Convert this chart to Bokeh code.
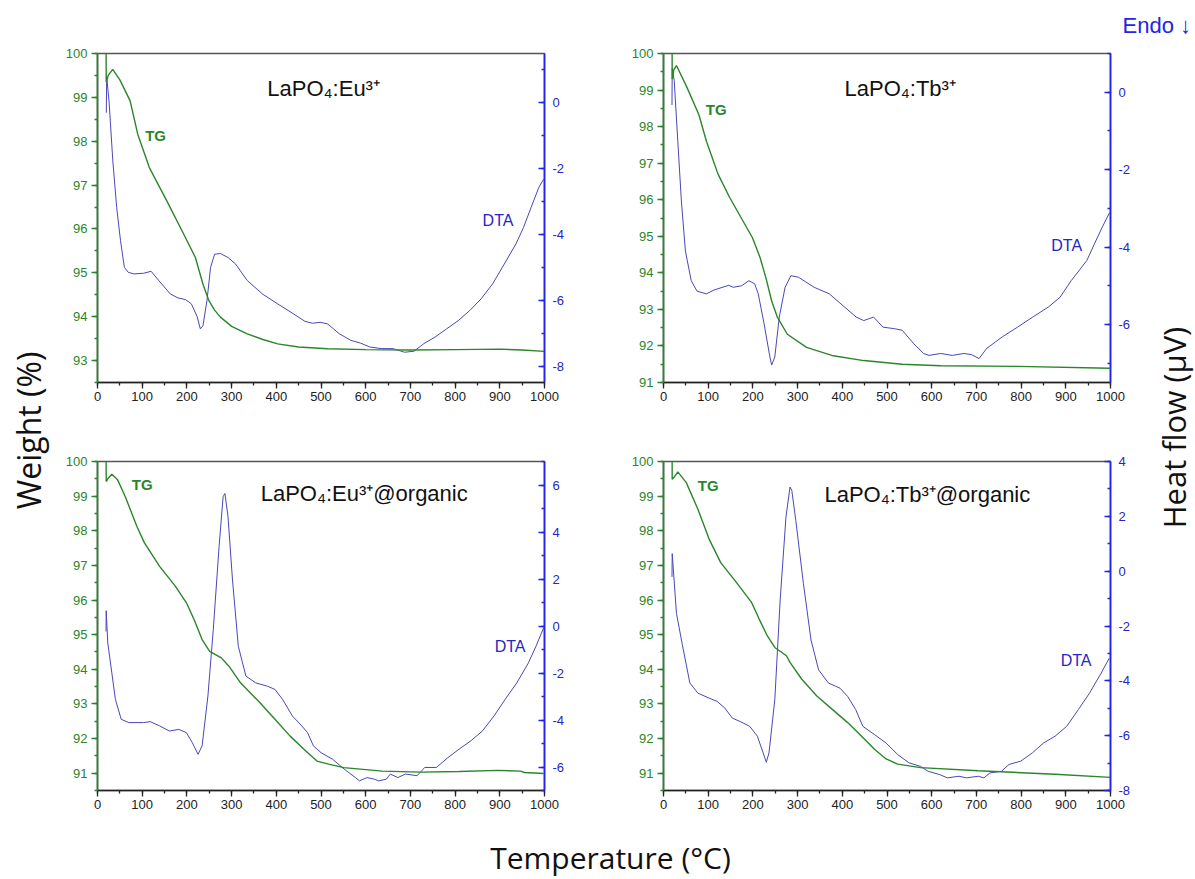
import math
from bokeh.plotting import figure
from bokeh.models import Range1d, LinearAxis, SingleIntervalTicker, Label, PrintfTickFormatter
from bokeh.layouts import row, column
from bokeh.embed import file_html
from bokeh.resources import INLINE

# ---------------- data ----------------
# Panel A: LaPO4:Eu3+
A_TG_T = [19, 19.5, 24, 34, 50, 73, 90, 116, 155, 193, 219, 236, 249, 262, 275, 300, 335, 370, 403, 450, 515, 600, 700, 800, 900, 950, 1000]
A_TG_W = [100.8, 99.35, 99.5, 99.64, 99.4, 98.92, 98.16, 97.40, 96.64, 95.88, 95.35, 94.74, 94.37, 94.15, 93.99, 93.78, 93.61, 93.48, 93.38, 93.31, 93.27, 93.25, 93.24, 93.25, 93.26, 93.24, 93.21]
A_DTA_T = [19.7, 20.5, 25.8, 34.3, 42.9, 51.5, 60.1, 68.7, 81.5, 103, 120, 137, 163, 180, 197, 210, 223, 230, 236, 245, 253, 262, 275, 292, 309, 335, 369, 403, 438, 464, 481, 498, 515, 541, 567, 588, 609, 635, 661, 687, 708, 730, 755, 781, 807, 833, 858, 884, 910, 936, 953, 970, 987, 998]
A_DTA_V = [-0.3, 0.8, 0.05, -1.77, -3.18, -4.19, -5.0, -5.15, -5.2, -5.18, -5.12, -5.4, -5.81, -5.93, -5.98, -6.11, -6.5, -6.87, -6.77, -6.0, -5.0, -4.6, -4.58, -4.7, -4.9, -5.4, -5.81, -6.11, -6.41, -6.64, -6.7, -6.67, -6.72, -7.02, -7.22, -7.3, -7.42, -7.47, -7.47, -7.58, -7.55, -7.32, -7.12, -6.87, -6.62, -6.31, -5.96, -5.5, -4.9, -4.29, -3.79, -3.18, -2.58, -2.32]

# Panel B: LaPO4:Tb3+
B_TG_T = [19, 19.5, 23, 29, 53, 79, 96, 122, 148, 174, 199, 216, 229, 242, 255, 277, 320, 380, 448, 534, 620, 792, 998]
B_TG_W = [100.8, 99.3, 99.55, 99.67, 99.06, 98.33, 97.6, 96.7, 96.06, 95.5, 94.96, 94.42, 93.87, 93.23, 92.78, 92.32, 91.96, 91.73, 91.6, 91.5, 91.46, 91.44, 91.39]
B_DTA_T = [19, 19.5, 24, 32, 40, 49, 62, 75, 96, 113, 146, 156, 175, 191, 204, 212, 225, 238, 242, 249, 259, 272, 285, 302, 337, 371, 397, 431, 448, 470, 491, 517, 534, 560, 582, 594, 620, 646, 672, 689, 706, 723, 758, 792, 826, 861, 887, 912, 947, 964, 981, 998]
B_DTA_V = [-0.33, 0.62, 0.3, -1.27, -2.81, -4.1, -4.87, -5.14, -5.21, -5.11, -4.99, -5.04, -5.0, -4.87, -4.95, -5.21, -5.98, -6.84, -7.05, -6.84, -5.81, -5.04, -4.74, -4.78, -5.04, -5.21, -5.47, -5.81, -5.9, -5.81, -6.07, -6.11, -6.15, -6.5, -6.75, -6.8, -6.75, -6.8, -6.75, -6.78, -6.88, -6.62, -6.32, -6.07, -5.81, -5.55, -5.3, -4.87, -4.35, -3.92, -3.5, -3.11]

# Panel C: LaPO4:Eu3+@organic
C_TG_T = [19, 19.5, 23, 32, 45, 62, 88, 105, 139, 174, 199, 216, 234, 251, 277, 294, 320, 363, 397, 431, 466, 491, 517, 551, 637, 723, 809, 895, 947, 955, 998]
C_TG_W = [100.8, 99.42, 99.5, 99.63, 99.47, 98.99, 98.13, 97.65, 96.97, 96.4, 95.92, 95.44, 94.86, 94.52, 94.33, 94.09, 93.61, 93.04, 92.56, 92.07, 91.64, 91.35, 91.26, 91.16, 91.06, 91.03, 91.05, 91.08, 91.06, 91.02, 90.99]
C_DTA_T = [19, 19.5, 23, 32, 40, 53, 70, 103, 118, 139, 161, 182, 199, 212, 225, 234, 247, 259, 272, 281, 285, 292, 302, 315, 332, 354, 380, 397, 414, 436, 457, 470, 483, 500, 526, 552, 577, 586, 603, 620, 629, 646, 655, 672, 689, 715, 732, 758, 784, 809, 835, 861, 887, 912, 938, 964, 981, 998]
C_DTA_V = [-0.23, 0.65, -0.72, -1.99, -3.12, -3.97, -4.11, -4.11, -4.07, -4.25, -4.47, -4.4, -4.54, -4.96, -5.46, -5.1, -2.98, -0.16, 3.38, 5.5, 5.64, 4.65, 1.96, -0.86, -2.13, -2.42, -2.56, -2.7, -3.12, -3.83, -4.25, -4.54, -5.1, -5.39, -5.67, -6.09, -6.45, -6.59, -6.45, -6.52, -6.59, -6.52, -6.3, -6.45, -6.3, -6.37, -6.02, -6.02, -5.6, -5.24, -4.89, -4.47, -3.83, -3.12, -2.42, -1.57, -0.86, -0.08]

# Panel D: LaPO4:Tb3+@organic
D_TG_T = [19, 19.5, 24, 32, 51, 77, 102, 128, 163, 197, 214, 232, 249, 275, 283, 309, 343, 377, 412, 446, 472, 498, 524, 575, 704, 876, 1000]
D_TG_W = [100.8, 99.49, 99.55, 99.7, 99.39, 98.62, 97.76, 97.08, 96.51, 95.93, 95.45, 94.97, 94.63, 94.39, 94.2, 93.72, 93.23, 92.85, 92.46, 92.03, 91.69, 91.41, 91.26, 91.16, 91.07, 90.97, 90.88]
D_DTA_T = [19, 19.5, 29, 42, 59, 77, 102, 120, 137, 154, 171, 193, 210, 223, 230, 236, 249, 261, 274, 283, 287, 296, 313, 330, 347, 369, 395, 412, 430, 446, 472, 498, 524, 549, 575, 592, 618, 635, 661, 678, 704, 717, 730, 756, 773, 799, 825, 850, 876, 902, 928, 953, 979, 997]
D_DTA_V = [-0.21, 0.64, -1.54, -2.67, -4.08, -4.45, -4.63, -4.75, -4.99, -5.36, -5.48, -5.66, -6.02, -6.63, -6.97, -6.63, -4.69, -1.05, 1.98, 3.07, 2.95, 1.85, -0.45, -2.51, -3.6, -4.08, -4.27, -4.57, -5.05, -5.66, -5.96, -6.27, -6.69, -6.99, -7.12, -7.3, -7.42, -7.54, -7.48, -7.54, -7.48, -7.54, -7.36, -7.3, -7.05, -6.93, -6.63, -6.27, -6.02, -5.66, -5.05, -4.45, -3.72, -3.18]

TITLES = ["LaPO\u2084:Eu\u00b3\u207a", "LaPO\u2084:Tb\u00b3\u207a",
          "LaPO\u2084:Eu\u00b3\u207a@organic", "LaPO\u2084:Tb\u00b3\u207a@organic"]
WEIGHT_RANGES = [(92.5, 100), (91, 100), (90.5, 100), (90.5, 100)]
DTA_RANGES = [(-8.5, 1.5), (-7.5, 1.0), (-7, 7), (-8, 4)]

X_LABEL = "Temperature (\u00b0C)"
Y_LABEL = "Weight (%)"
Y2_LABEL = "Heat flow (\u00b5V)"
ENDO = "Endo \u2193"

# ---------------- style ----------------
GREEN = "#2a862a"
GREEN_TXT = "#2a862a"
BLUE_LINE = "#4848b8"
BLUE_AX = "#2424e6"
BLUE_TXT = "#2626c4"
TICK_FONT = "Liberation Sans"
BIG_FONT = "Open Sans"


def style_axis(ax, color, txt, tin, tout):
    ax.formatter = PrintfTickFormatter(format="%d")
    ax.axis_line_color = color
    ax.axis_line_width = 1.6
    ax.major_tick_line_color = color
    ax.minor_tick_line_color = color
    ax.major_tick_line_width = 1.3
    ax.minor_tick_line_width = 1.3
    ax.major_tick_in = tin
    ax.major_tick_out = tout
    ax.minor_tick_in = 3 if tin else 0
    ax.minor_tick_out = 3 if tout else 0
    ax.major_label_text_color = txt
    ax.major_label_text_font = TICK_FONT
    ax.major_label_text_font_size = "13px"


def panel(w, h, bl, br, bt, bb, k, tgT, tgW, dT, dV, tpos, tgpos, dtapos):
    p = figure(width=w, height=h, output_backend="svg", toolbar_location=None,
               x_range=Range1d(0, 1000), y_range=Range1d(*WEIGHT_RANGES[k]),
               x_axis_type=None, y_axis_type=None, title=None,
               min_border_left=bl, min_border_right=br,
               min_border_top=bt, min_border_bottom=bb)
    p.extra_y_ranges = {"dta": Range1d(*DTA_RANGES[k])}
    p.background_fill_color = "white"
    p.border_fill_color = "white"
    p.outline_line_color = "#555555"
    p.outline_line_width = 1.6

    xax = LinearAxis(ticker=SingleIntervalTicker(interval=100, num_minor_ticks=2))
    style_axis(xax, "#222222", "#222222", 0, 6)
    xax.major_label_standoff = 3
    p.add_layout(xax, "below")

    yax = LinearAxis(ticker=SingleIntervalTicker(interval=1, num_minor_ticks=2))
    style_axis(yax, GREEN, GREEN_TXT, 0, 6)
    yax.major_label_standoff = 4
    p.add_layout(yax, "left")

    y2 = LinearAxis(y_range_name="dta", ticker=SingleIntervalTicker(interval=2, num_minor_ticks=2))
    style_axis(y2, BLUE_AX, BLUE_TXT, 6, 0)
    y2.major_label_standoff = 8
    p.add_layout(y2, "right")

    p.line(dT, dV, color=BLUE_LINE, line_width=1.0, y_range_name="dta")
    p.line(tgT, tgW, color=GREEN, line_width=1.4)

    p.add_layout(Label(x=tpos[0], y=tpos[1], text=TITLES[k], text_font=TICK_FONT,
                       text_font_size="22px", text_color="#111111",
                       text_baseline="alphabetic", text_align="left"))
    p.add_layout(Label(x=tgpos[0], y=tgpos[1], text="TG", text_font=TICK_FONT,
                       text_font_size="15px", text_font_style="bold", text_color=GREEN_TXT,
                       text_baseline="middle", text_align="center"))
    p.add_layout(Label(x=dtapos[0], y=dtapos[1], text="DTA", y_range_name="dta",
                       text_font=TICK_FONT, text_font_size="16px", text_color=BLUE_TXT,
                       text_baseline="middle", text_align="center"))
    return p


def text_fig(w, h):
    p = figure(width=w, height=h, output_backend="svg", toolbar_location=None,
               x_range=Range1d(0, w), y_range=Range1d(0, h),
               x_axis_type=None, y_axis_type=None, title=None, min_border=0)
    p.outline_line_color = None
    p.background_fill_color = "white"
    p.border_fill_color = "white"
    return p


# geometry (page px, page has no margin): frames at x 97..544 and 663..1110,
# y 53..382 and 461..790
TOP_H, ROW1_H, ROW2_H, BOT_H = 45, 385, 392, 56
L_W, TL_W, TR_W, R_W = 50, 555, 545, 44
TOTAL_W = L_W + TL_W + TR_W + R_W

pA = panel(TL_W, ROW1_H, 47, 61, 8, 48, 0, A_TG_T, A_TG_W, A_DTA_T, A_DTA_V,
           (380, 99.20), (130, 98.14), (896, -3.59))
pB = panel(TR_W, ROW1_H, 58, 40, 8, 48, 1, B_TG_T, B_TG_W, B_DTA_T, B_DTA_V,
           (405, 99.04), (118, 98.47), (902, -3.95))
pC = panel(TL_W, ROW2_H, 47, 61, 31, 32, 2, C_TG_T, C_TG_W, C_DTA_T, C_DTA_V,
           (365, 99.07), (100, 99.33), (923, -0.86))
pD = panel(TR_W, ROW2_H, 58, 40, 31, 32, 3, D_TG_T, D_TG_W, D_DTA_T, D_DTA_V,
           (360, 99.06), (100, 99.32), (923, -3.27))

top = text_fig(TOTAL_W, TOP_H)
top.add_layout(Label(x=1122, y=TOP_H - 25, text=ENDO, text_font=TICK_FONT, text_font_size="22px",
                     text_color=BLUE_AX, text_baseline="middle", text_align="left"))

mid_h = ROW1_H + ROW2_H
left = text_fig(L_W, mid_h)
left.add_layout(Label(x=28, y=mid_h - (430 - TOP_H), text=Y_LABEL, angle=math.pi / 2,
                      text_font=BIG_FONT, text_font_size="32px", text_color="#111111",
                      text_baseline="middle", text_align="center"))
right = text_fig(R_W, mid_h)
right.add_layout(Label(x=1173 - (L_W + TL_W + TR_W), y=mid_h - (427 - TOP_H), text=Y2_LABEL,
                       angle=math.pi / 2, text_font=BIG_FONT, text_font_size="31px",
                       text_color="#111111", text_baseline="middle", text_align="center"))

bot = text_fig(TOTAL_W, BOT_H)
bot.add_layout(Label(x=610, y=BOT_H - (857 - (TOP_H + mid_h)), text=X_LABEL, text_font=BIG_FONT,
                     text_font_size="30px", text_color="#111111",
                     text_baseline="middle", text_align="center"))

layout = column(top,
                row(left, column(row(pA, pB), row(pC, pD)), right),
                bot)

open("out.html", "w").write(file_html(layout, INLINE))
